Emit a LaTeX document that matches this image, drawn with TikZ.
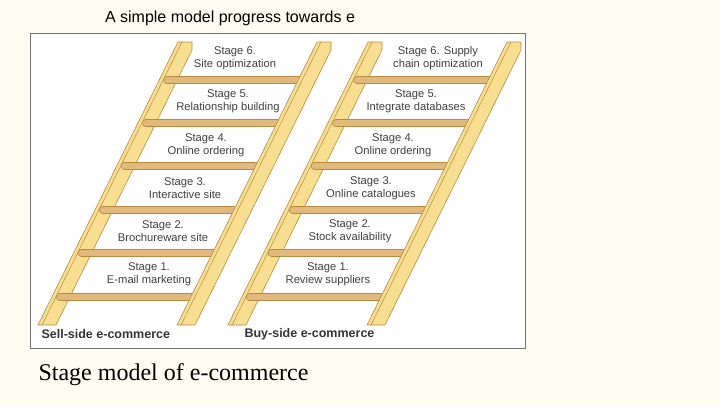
\documentclass[tikz,border=0pt]{standalone}
\usepackage{fontspec}
\setmainfont{Liberation Serif}
\setsansfont{Liberation Sans}
\definecolor{railfill}{HTML}{F8DE90}
\definecolor{raildraw}{HTML}{B88A40}
\definecolor{rungfill}{HTML}{E2B97C}
\definecolor{paper}{HTML}{FFFCF2}
\tikzset{
  rail/.style={fill=railfill,draw=raildraw,line width=0.6pt},
  rung/.style={draw=raildraw,line width=8pt,line cap=round},
  rungin/.style={draw=rungfill,line width=6.6pt,line cap=round},
  stage/.style={font=\sffamily\fontsize{11.2}{13.5}\selectfont,text=black!75,align=center},
  side/.style={font=\sffamily\bfseries\fontsize{12.5}{14}\selectfont,text=black!80,anchor=west},
}
% rail with bottom left corner at x=#1
\newcommand{\ladderrail}[1]{
  \fill[rail] (#1,325) -- ++(140,-283) -- ++(14,0) -- ++(0,8) -- ++(-136,275) -- cycle;
  \draw[raildraw,line width=0.5pt] (#1+4,325) -- ++(140,-283);
}
\begin{document}
\begin{tikzpicture}[x=1pt,y=-1pt]
  \fill[paper] (0,0) rectangle (720,405);
  \useasboundingbox (0,0) rectangle (720,405);
  \draw[fill=white,draw=black!55,line width=0.6pt] (30,33) rectangle (525,348);
  \node[font=\sffamily\fontsize{16}{18}\selectfont] (title) at (230,18) {A simple model progress towards e};
  \node[font=\fontsize{24}{28}\selectfont,anchor=west] (caption) at (35,375) {Stage model of e-commerce};
  % left ladder
  \ladderrail{38}
  \foreach \y in {80,123,166,210,253,297}{
    \draw[rung] ({38+14+(325-\y)*0.495-6},\y) -- ({177+(325-\y)*0.495+5},\y);
    \draw[rungin] ({38+14+(325-\y)*0.495-6},\y) -- ({177+(325-\y)*0.495+5},\y);
  }
  \ladderrail{177}
  % right ladder
  \ladderrail{228}
  \foreach \y in {80,123,166,210,253,297}{
    \draw[rung] ({228+14+(325-\y)*0.495-6},\y) -- ({367+(325-\y)*0.495+5},\y);
    \draw[rungin] ({228+14+(325-\y)*0.495-6},\y) -- ({367+(325-\y)*0.495+5},\y);
  }
  \ladderrail{367}
  % labels
  \node[stage] (s6) at (235,58) {Stage 6.\\Site optimization};
  \node[stage] (s5) at (228,101) {Stage 5.\\Relationship building};
  \node[stage] (s4) at (206,145) {Stage 4.\\Online ordering};
  \node[stage] (s3) at (185,188) {Stage 3.\\Interactive site};
  \node[stage] (s2) at (163,231) {Stage 2.\\Brochureware site};
  \node[stage] (s1) at (149,274) {Stage 1.\\E-mail marketing};
  \node[stage] (b6) at (438,58) {Stage 6. Supply\\chain optimization};
  \node[stage] (b5) at (416,101) {Stage 5.\\Integrate databases};
  \node[stage] (b4) at (393,145) {Stage 4.\\Online ordering};
  \node[stage] (b3) at (371,188) {Stage 3.\\Online catalogues};
  \node[stage] (b2) at (350,231) {Stage 2.\\Stock availability};
  \node[stage] (b1) at (328,274) {Stage 1.\\Review suppliers};
  \node[side] (sell) at (38,334) {Sell-side e-commerce};
  \node[side] (buy) at (241,334) {Buy-side e-commerce};
\end{tikzpicture}
\end{document}
